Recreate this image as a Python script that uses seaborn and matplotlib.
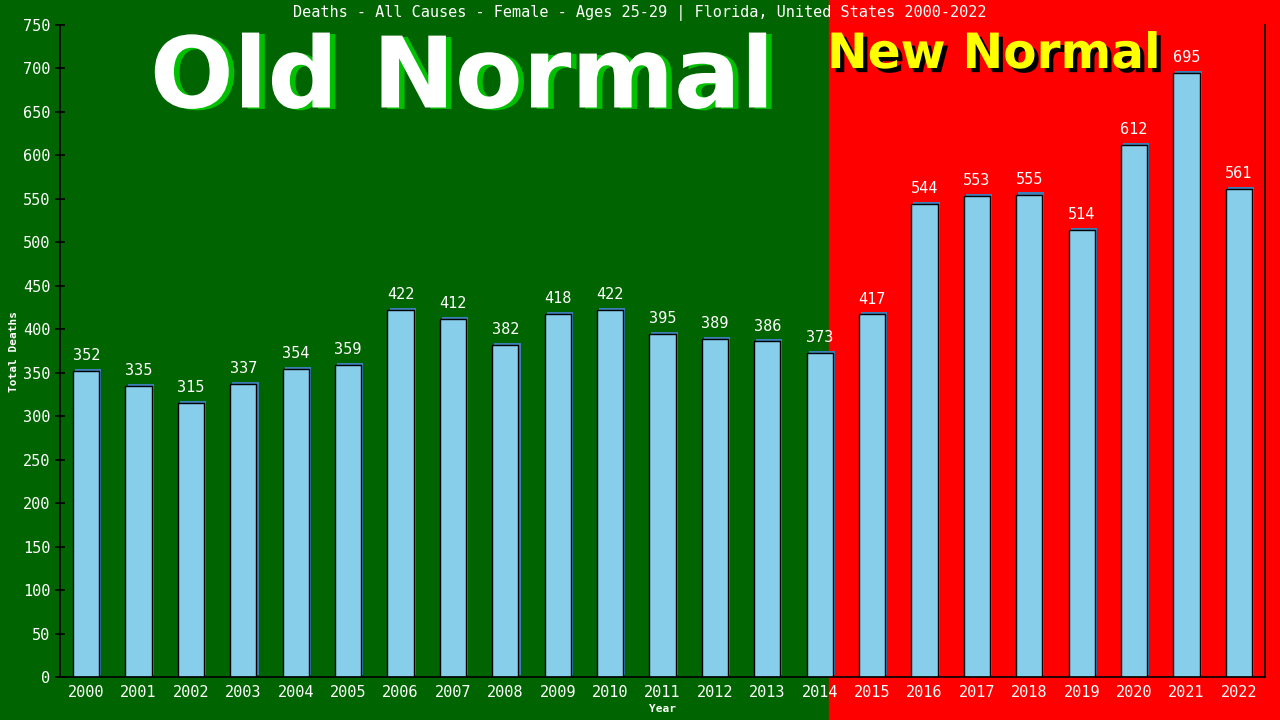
import matplotlib
matplotlib.use("Agg")
import matplotlib.pyplot as plt
import matplotlib.patheffects as pe
from matplotlib.patches import Rectangle
import seaborn as sns
import pandas as pd

# data
years = [str(y) for y in range(2000, 2023)]
deaths = [352, 335, 315, 337, 354, 359, 422, 412, 382, 418, 422, 395,
          389, 386, 373, 417, 544, 553, 555, 514, 612, 695, 561]
y_ticks = list(range(0, 751, 50))

title = "Deaths - All Causes - Female - Ages 25-29 | Florida, United States 2000-2022"
old_label = "Old Normal"
new_label = "New Normal"

df = pd.DataFrame({"Year": years, "Deaths": deaths})

sns.set_style("ticks")
plt.rcParams["font.family"] = ["DejaVu Sans Mono", "DejaVu Sans"]

fig = plt.figure(figsize=(12.8, 7.2), dpi=100)

# split background: green "old" era, red "new" era
split = 829 / 1280
fig.patches.append(Rectangle((0, 0), split, 1, transform=fig.transFigure,
                             color="#006400", zorder=-10))
fig.patches.append(Rectangle((split, 0), 1 - split, 1, transform=fig.transFigure,
                             color="#ff0000", zorder=-10))

ax = fig.add_axes([60 / 1280, 43 / 720, 1205 / 1280, 652 / 720])
ax.set_facecolor("none")

sns.barplot(data=df, x="Year", y="Deaths", color="#87ceeb", width=0.5,
            edgecolor="black", linewidth=1.0, saturation=1, ax=ax)
for bar in ax.patches:
    bar.set_path_effects([pe.SimplePatchShadow(offset=(1.5, 1.5),
                                               shadow_rgbFace="#3d7fb8", alpha=1),
                          pe.Normal()])

for i, v in enumerate(deaths):
    ax.text(i, v + 9, str(v), ha="center", va="bottom", color="white",
            fontsize=11)

ax.set_ylim(0, 750)
ax.set_xlim(-0.5, len(years) - 0.5)
ax.set_yticks(y_ticks)
ax.tick_params(axis="y", colors="white", labelsize=11, length=7,
               direction="inout", width=1.2)
ax.tick_params(axis="y", color="black")
ax.tick_params(axis="x", colors="white", labelsize=11, length=0, pad=6)
for side in ["left", "bottom", "right"]:
    ax.spines[side].set_color("black")
    ax.spines[side].set_linewidth(1.2)
ax.spines["top"].set_visible(False)

ax.set_xlabel("Year", color="white", fontsize=8, fontweight="bold", labelpad=3)
ax.set_ylabel("Total Deaths", color="white", fontsize=8, fontweight="bold",
              labelpad=3)

fig.text(0.5, 1 - 13 / 720, title, ha="center", va="center", color="white",
         fontsize=11)

# big era labels with drop shadows
fig.text(462 / 1280, 1 - 80 / 720, old_label, ha="center", va="center",
         color="white", fontsize=71, fontweight="bold", family="DejaVu Sans",
         path_effects=[pe.withSimplePatchShadow(offset=(4, -1),
                                                shadow_rgbFace="#00c000",
                                                alpha=1)])
fig.text(994 / 1280, 1 - 54 / 720, new_label, ha="center", va="center",
         color="#ffff00", fontsize=35, fontweight="bold", family="DejaVu Sans",
         path_effects=[pe.withSimplePatchShadow(offset=(3, -3),
                                                shadow_rgbFace="black",
                                                alpha=1)])

fig.savefig("out.png", dpi=100)
